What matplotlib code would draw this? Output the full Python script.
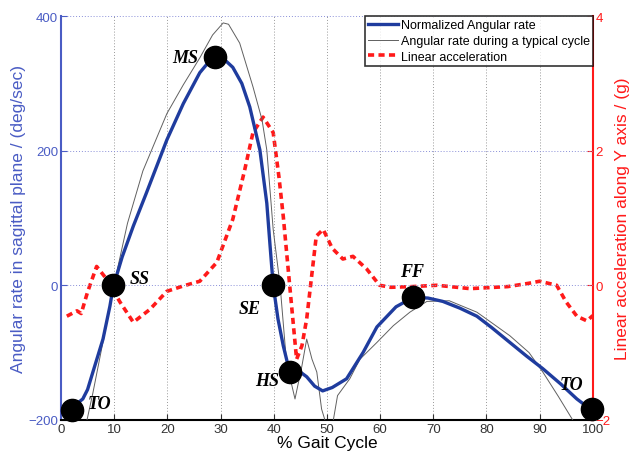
import matplotlib
matplotlib.use("Agg")
import matplotlib.pyplot as plt
import numpy as np

# Normalized angular rate (deg/sec)
blue_x = [1.5, 3.0, 4.1, 5.0, 6.0, 7.9, 9.2, 9.8, 11.5, 13.6, 16.0, 18.0, 19.9, 23.0, 26.1,
          28.0, 29.0, 30.8, 32.3, 34.0, 35.5, 37.4, 38.7, 39.3, 39.9, 40.8, 41.8, 43.0,
          44.5, 46.2, 47.7, 49.2, 51.0, 53.7, 56.8, 59.4, 63.0, 66.2, 69.0, 71.8, 75.0,
          78.2, 81.0, 84.4, 87.5, 90.6, 94.0, 97.0, 98.5, 99.8]
blue_y = [-183, -176, -169, -155, -129, -80, -31, -3, 42, 88, 136, 177, 216, 270, 316,
          334, 339, 335, 324, 300, 265, 201, 122, 60, 0, -50, -90, -129,
          -126, -136, -150, -157, -152, -139, -100, -62, -32, -18, -19, -24, -34,
          -46, -63, -85, -105, -124, -147, -169, -178, -184]

# Angular rate during a typical cycle (deg/sec)
gray_x = [4.9, 6.0, 7.5, 9.0, 10.5, 12.5, 15.4, 19.9, 23.0, 26.1, 28.5, 30.5, 31.5,
          33.6, 36.1, 37.8, 38.7, 39.9, 41.2, 42.4, 43.0, 44.0, 45.3, 46.2, 47.2, 48.1,
          49.0, 50.0, 51.0, 52.0, 54.3, 56.2, 59.4, 62.5, 65.6, 68.8, 73.0, 78.2,
          84.4, 88.0, 90.6, 93.5, 96.2]
gray_y = [-200, -160, -100, -40, 20, 92, 170, 255, 298, 338, 372, 390, 388,
          360, 295, 246, 201, 83, 0, -114, -135, -169, -120, -80, -110, -129,
          -184, -210, -210, -164, -139, -110, -85, -60, -40, -24, -23, -40,
          -75, -100, -129, -165, -200]

# Linear acceleration (g)
red_x = [1.1, 3.0, 3.8, 5.0, 6.7, 8.6, 11.1, 13.6, 16.7, 19.9, 23.0, 26.1, 29.3,
         32.3, 34.5, 36.1, 38.0, 39.9, 41.0, 41.8, 43.0, 44.3, 45.3, 46.2, 48.0,
         49.3, 51.0, 53.0, 54.9, 57.5, 59.9, 62.0, 66.0, 70.7, 76.9, 84.0, 88.0,
         90.0, 93.2, 95.0, 97.0, 98.9, 100.0]
red_y = [-0.46, -0.38, -0.42, -0.10, 0.28, 0.09, -0.25, -0.55, -0.36, -0.09, -0.01,
         0.06, 0.34, 0.98, 1.70, 2.27, 2.50, 2.27, 1.60, 1.02, 0.0, -1.10, -0.90,
         -0.50, 0.73, 0.83, 0.55, 0.39, 0.43, 0.24, 0.0, -0.03, -0.02, 0.0, -0.05,
         -0.02, 0.03, 0.06, 0.0, -0.25, -0.46, -0.53, -0.45]

# Gait events
event_x = [2.0, 9.8, 29.0, 39.9, 43.0, 66.2, 99.8]
event_y = [-185, 0, 339, 0, -129, -18, -184]
event_labels = ["TO", "SS", "MS", "SE", "HS", "FF", "TO"]
label_offsets = [(5.3, 9), (5.0, 10), (-5.7, 0), (-4.4, -35), (-4.3, -13), (-0.2, 39), (-3.8, 36)]

x_ticks = [0, 10, 20, 30, 40, 50, 60, 70, 80, 90, 100]
left_ticks = [-200, 0, 200, 400]
right_ticks = [-2, 0, 2, 4]

BLUE = "#1f3c9e"
BLUE_TXT = "#4a5cc4"
RED = "#ff1a1a"
SANS = "Liberation Sans"

fig = plt.figure(figsize=(6.32, 4.52), dpi=100)
ax = fig.add_axes([0.0965, 0.069, 0.8415, 0.893])
ax2 = ax.twinx()

l1, = ax.plot(blue_x, blue_y, color=BLUE, lw=2.4, zorder=4, label="Normalized Angular rate",
              solid_joinstyle="round")
l2, = ax.plot(gray_x, gray_y, color="#606060", lw=0.7, zorder=3,
              label="Angular rate during a typical cycle")
l3, = ax2.plot(red_x, red_y, color=RED, lw=2.6, ls=(0, (1.7, 1.2)),
               label="Linear acceleration")

ax.plot(event_x, event_y, "o", color="black", ms=16, zorder=6, clip_on=False)
for x, y, t, (dx, dy) in zip(event_x, event_y, event_labels, label_offsets):
    ax.text(x + dx, y + dy, t, fontsize=13, fontweight="bold", fontstyle="italic",
            family="Liberation Serif", ha="center", va="center", zorder=7)

ax.set_xlim(0, 100)
ax.set_ylim(-200, 400)
ax2.set_ylim(-2, 4)
ax.set_xticks(x_ticks)
ax.set_yticks(left_ticks)
ax2.set_yticks(right_ticks)

ax.set_zorder(ax2.get_zorder() + 1)
ax.patch.set_visible(False)

ax.grid(True, axis="x", color="#999999", ls=(0, (1, 2)), lw=0.7)
ax.grid(True, axis="y", color="#8a8fd8", ls=(0, (1, 2)), lw=0.7)

for a in (ax, ax2):
    a.spines["top"].set_visible(False)
ax.spines["right"].set_visible(False)
ax2.spines["left"].set_visible(False)
ax2.spines["bottom"].set_visible(False)
ax.spines["left"].set_color(BLUE_TXT)
ax.spines["left"].set_linewidth(1.5)
ax.spines["bottom"].set_linewidth(1.5)
ax2.spines["right"].set_color(RED)
ax2.spines["right"].set_linewidth(1.5)

ax.tick_params(axis="y", colors=BLUE_TXT, labelsize=9.5, direction="in", length=4, pad=2)
ax.tick_params(axis="x", labelsize=9.5, direction="in", length=4, colors="#333333", pad=2)
ax2.tick_params(axis="y", colors=RED, labelsize=9.5, direction="in", length=4, pad=2)
for lab in ax.get_xticklabels() + ax.get_yticklabels() + ax2.get_yticklabels():
    lab.set_family(SANS)

ax.set_xlabel("% Gait Cycle", fontsize=12.5, labelpad=0, family=SANS)
ax.set_ylabel("Angular rate in sagittal plane / (deg/sec)", color=BLUE_TXT, fontsize=12.5,
              labelpad=2, family=SANS)
ax2.set_ylabel("Linear acceleration along Y axis / (g)", color=RED, fontsize=12.5,
               labelpad=3, family=SANS)

leg = ax.legend(handles=[l1, l2, l3], loc="upper right", frameon=True,
                prop={"family": SANS, "size": 9},
                fancybox=False, borderpad=0.25, labelspacing=0.3, handlelength=2.4,
                handletextpad=0.2, borderaxespad=0.0)
leg.get_frame().set_edgecolor("black")
leg.get_frame().set_linewidth(1.2)

fig.savefig("out.png", dpi=100)
